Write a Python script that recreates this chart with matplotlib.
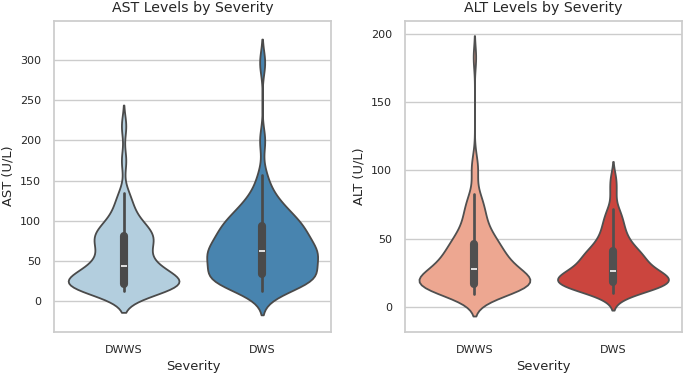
import matplotlib
matplotlib.use("Agg")
import matplotlib.pyplot as plt
import seaborn as sns
import pandas as pd

categories = ["DWWS", "DWS"]

ast_dwws = [12, 13, 14, 15, 16, 17, 17, 18, 18, 19, 19, 20, 20, 20, 21,
            22, 24, 26, 27, 28, 29, 30, 31, 32, 33, 35, 37, 39, 41, 43,
            45, 47, 49, 52, 55, 58, 61, 64, 67, 70, 72, 74, 76, 78, 80,
            82, 84, 86, 88, 90, 93, 96, 100, 105, 111, 118, 126, 134, 175, 218]
ast_dws = [12, 15, 18, 20, 22, 24, 25, 26, 27, 28, 29, 30, 31, 31, 32, 33,
           34, 38, 42, 45, 47, 49, 51, 53, 54, 55, 56, 57, 58, 59, 60, 62,
           63, 65, 67, 69, 71, 73, 75, 77, 79, 81, 83, 85, 87, 89, 91, 93,
           95, 97, 99, 101, 104, 107, 110, 113, 117, 121, 126, 132, 142, 157, 200, 297]
alt_dwws = [9, 10, 10, 11, 11, 12, 12, 12, 13, 13, 13, 14, 14, 14, 14, 15, 15, 15, 15, 16, 16, 16, 16, 16, 17,
            17, 18, 18, 18, 19, 19, 20, 20, 20, 21, 21, 21, 22, 22, 22, 23, 23, 24, 24, 25, 25, 26, 26, 27, 27,
            28, 29, 29, 30, 31, 31, 32, 33, 33, 34, 35, 35, 36, 37, 38, 38, 39, 40, 41, 42, 42, 43, 44, 45, 46,
            47, 48, 49, 50, 51, 52, 53, 54, 56, 58, 60, 62, 64, 66, 68, 70, 72, 75, 78, 80, 83, 96, 101, 108, 183]
alt_dws = [10, 11, 12, 13, 14, 14, 15, 15, 16, 16, 17, 17, 17, 18, 18,
           19, 19, 20, 20, 21, 21, 22, 22, 23, 23, 24, 24, 25, 26, 26,
           28, 29, 30, 31, 32, 33, 34, 35, 36, 37, 38, 39, 40, 41, 42,
           44, 46, 48, 50, 52, 55, 58, 61, 64, 68, 72, 84, 94]

sns.set_theme(style="whitegrid")
plt.rcParams['font.family'] = ['DejaVu Sans']

fig, axes = plt.subplots(1, 2, figsize=(6.85, 3.76), dpi=100)
fig.subplots_adjust(left=0.0793, right=0.996, top=0.945, bottom=0.118, wspace=0.266)

def make_df(a, b, name):
    return pd.DataFrame({
        "Severity": [categories[0]] * len(a) + [categories[1]] * len(b),
        name: list(a) + list(b),
    })

panels = [
    (axes[0], make_df(ast_dwws, ast_dws, "AST (U/L)"), "AST (U/L)", "Blues", "AST Levels by Severity", (-38, 349), 0.7),
    (axes[1], make_df(alt_dwws, alt_dws, "ALT (U/L)"), "ALT (U/L)", "Reds", "ALT Levels by Severity", (-18.3, 209.8), 0.75),
]

for ax, df, col, pal, title, ylim, bwa in panels:
    sns.violinplot(data=df, x="Severity", y=col, hue="Severity", palette=pal,
                   legend=False, ax=ax, density_norm="width", linewidth=1.3,
                   bw_adjust=bwa, order=categories, hue_order=categories)
    ax.set_title(title, fontsize=10.2, color="#262626")
    ax.set_xlabel("Severity", fontsize=9.4, color="#262626")
    ax.set_ylabel(col, fontsize=9.4, color="#262626")
    ax.tick_params(labelsize=8, colors="#262626")
    ax.xaxis.grid(False)
    ax.set_ylim(*ylim)

fig.savefig("out.png", dpi=100)
